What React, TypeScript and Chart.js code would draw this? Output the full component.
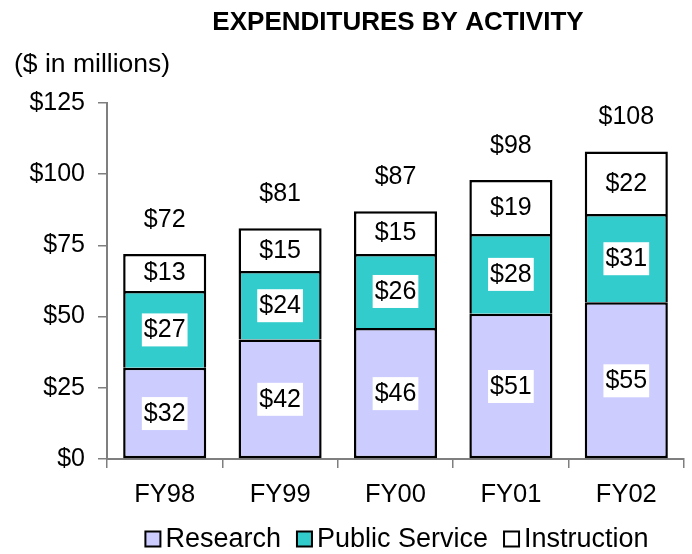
import React, { useEffect, useRef } from 'react';
import { Chart, registerables } from 'chart.js';

Chart.register(...registerables);

const categories = ['FY98', 'FY99', 'FY00', 'FY01', 'FY02'];
const research = [32, 42, 46, 51, 55];
const publicService = [27, 24, 26, 28, 31];
const instruction = [13, 15, 15, 19, 22];
const totals = [72, 81, 87, 98, 108];
const seriesNames = ['Research', 'Public Service', 'Instruction'];
const seriesColors = ['#CCCCFF', '#33CCCC', '#FFFFFF'];
const titleText = 'EXPENDITURES BY ACTIVITY';
const unitText = '($ in millions)';

const FONT = '"Liberation Sans", Arial, sans-serif';

const labelPlugin = {
  id: 'customLabels',
  afterDatasetsDraw(chart: any) {
    const ctx = chart.ctx;
    ctx.save();
    ctx.font = `25px ${FONT}`;
    ctx.textAlign = 'center';
    ctx.textBaseline = 'middle';
    chart.data.datasets.forEach((ds: any, di: number) => {
      const meta = chart.getDatasetMeta(di);
      meta.data.forEach((el: any, i: number) => {
        const v = ds.data[i];
        const txt = '$' + v;
        const cy = (el.y + el.base) / 2;
        const w = ctx.measureText(txt).width;
        if (ds.backgroundColor !== '#FFFFFF') {
          ctx.fillStyle = '#FFFFFF';
          ctx.fillRect(el.x - w / 2 - 2, cy - 16, w + 4, 33);
        }
        ctx.fillStyle = '#000000';
        ctx.fillText(txt, el.x, cy + 1);
      });
    });
    const lastMeta = chart.getDatasetMeta(chart.data.datasets.length - 1);
    ctx.textBaseline = 'alphabetic';
    lastMeta.data.forEach((el: any, i: number) => {
      ctx.fillStyle = '#000000';
      ctx.fillText('$' + totals[i], el.x, el.y - 27);
    });
    ctx.restore();
  },
  afterDraw(chart: any) {
    const ctx = chart.ctx;
    ctx.save();
    ctx.fillStyle = '#000000';
    ctx.textBaseline = 'alphabetic';
    ctx.font = `bold 26px ${FONT}`;
    ctx.textAlign = 'center';
    ctx.fillText(titleText, 398, 30);
    ctx.font = `26.5px ${FONT}`;
    ctx.textAlign = 'left';
    ctx.fillText(unitText, 14, 72);
    // legend
    ctx.font = `27px ${FONT}`;
    const box = 15;
    const gap = 5;
    const itemGap = 16;
    const widths = seriesNames.map((n) => box + gap + ctx.measureText(n).width);
    const total = widths.reduce((a, b) => a + b, 0) + itemGap * (seriesNames.length - 1);
    let x = 397 - total / 2;
    const cy = 539;
    seriesNames.forEach((n, i) => {
      ctx.fillStyle = seriesColors[i];
      ctx.fillRect(x, cy - box / 2, box, box);
      ctx.strokeStyle = '#000000';
      ctx.lineWidth = 2;
      ctx.strokeRect(x, cy - box / 2, box, box);
      ctx.fillStyle = '#000000';
      ctx.textBaseline = 'middle';
      ctx.fillText(n, x + box + gap, cy + 1);
      x += widths[i] + itemGap;
    });
    ctx.restore();
  },
};

export default function App() {
  const ref = useRef<HTMLCanvasElement>(null);
  useEffect(() => {
    if (!ref.current) return;
    const chart = new Chart(ref.current, {
      type: 'bar',
      data: {
        labels: categories,
        datasets: [research, publicService, instruction].map((d, i) => ({
          label: seriesNames[i],
          data: d,
          backgroundColor: seriesColors[i],
          borderColor: '#000000',
          borderWidth: 2.5,
          borderSkipped: i === 0 ? false : 'bottom',
          categoryPercentage: 1,
          barPercentage: 0.72,
        })),
      },
      options: {
        responsive: false,
        animation: false,
        devicePixelRatio: 1,
        layout: { padding: { top: 103, left: 0, right: 8, bottom: 40 } },
        plugins: {
          legend: { display: false },
          title: { display: false },
          tooltip: { enabled: false },
        },
        scales: {
          x: {
            stacked: true,
            afterFit: (s: any) => {
              s.height = 55;
            },
            grid: { drawOnChartArea: false, tickLength: 9, color: '#7f7f7f', lineWidth: 1.5 },
            border: { color: '#7f7f7f', width: 2 },
            ticks: { color: '#000000', font: { family: FONT, size: 25.5 }, padding: 12 },
          },
          y: {
            stacked: true,
            min: 0,
            max: 125,
            afterFit: (s: any) => {
              s.width = 107;
            },
            grid: { drawOnChartArea: false, tickLength: 9, color: '#7f7f7f', lineWidth: 1.5 },
            border: { color: '#7f7f7f', width: 2 },
            ticks: {
              stepSize: 25,
              color: '#000000',
              font: { family: FONT, size: 25 },
              padding: 13,
              callback: (v: any) => '$' + v,
            },
          },
        },
      },
      plugins: [labelPlugin],
    });
    return () => chart.destroy();
  }, []);
  return (
    <div style={{ position: 'fixed', left: 0, top: 0, width: 692, height: 554, background: '#fff' }}>
      <canvas ref={ref} width={692} height={554} style={{ width: 692, height: 554 }} />
    </div>
  );
}
